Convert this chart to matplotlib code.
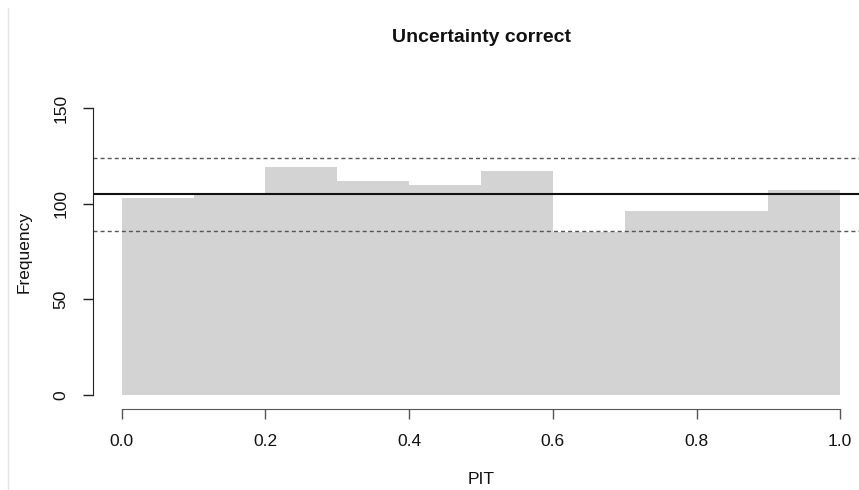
import numpy as np
import matplotlib
matplotlib.use('Agg')
from matplotlib import pyplot as plt
from matplotlib.lines import Line2D

plt.rcParams['font.family'] = ['Liberation Sans', 'DejaVu Sans']

# PIT histogram: ten equal bins on [0, 1]
bin_edges = [0.0, 0.1, 0.2, 0.3, 0.4, 0.5, 0.6, 0.7, 0.8, 0.9, 1.0]
counts = np.array([103, 105, 119, 112, 110, 117, 85, 96, 96, 107])
x_ticks = [0.0, 0.2, 0.4, 0.6, 0.8, 1.0]
y_ticks = [0, 50, 100, 150]

n_total = counts.sum()
p_bin = 1.0 / len(counts)
expected = n_total * p_bin
half_width = 1.96 * np.sqrt(n_total * p_bin * (1 - p_bin))

fig = plt.figure(figsize=(8.59, 4.90), dpi=100)
ax = fig.add_axes([0.1083, 0.1704, 0.9033, 0.6325])

ax.stairs(counts, bin_edges, fill=True, color='#d3d3d3', lw=0)
ax.axhline(expected, color='#111111', lw=1.5)
for y in (expected - half_width, expected + half_width):
    ax.axhline(y, color='#555555', lw=1.0, dashes=(2.9, 2.2))

ax.set_xlim(-0.04, 1.04)
ax.set_ylim(-6, 156)

for side in ('top', 'right'):
    ax.spines[side].set_visible(False)
ax.spines['left'].set_bounds(0, 150)
ax.spines['bottom'].set_bounds(0, 1)
ax.spines['bottom'].set_position(('outward', 2))
ax.spines['left'].set_color('#222222')
ax.spines['bottom'].set_color('#555555')

ax.set_xticks(x_ticks)
ax.set_xticklabels([f'{t:.1f}' for t in x_ticks])
ax.set_yticks(y_ticks)
ax.set_yticklabels([str(t) for t in y_ticks], rotation=90, va='center')
ax.tick_params(axis='x', length=7.5, width=1.0, color='#555555',
               labelsize=12.5, pad=10, labelcolor='#111111')
ax.tick_params(axis='y', length=7.5, width=1.0, color='#222222',
               labelsize=12.5, pad=10, labelcolor='#111111')

ax.set_xlabel('PIT', fontsize=12.5, labelpad=17, color='#111111')
ax.set_ylabel('Frequency', fontsize=12.5, labelpad=16, color='#111111')
fig.text(481 / 859, 1 - 37 / 490, 'Uncertainty correct', ha='center',
         va='center', fontsize=14, fontweight='bold', color='#111111')

# thin border on the left edge of the canvas
fig.add_artist(Line2D([8 / 859, 8 / 859], [0, 1 - 8 / 490],
                      transform=fig.transFigure, color='#e4e4e4', lw=1.0))

fig.savefig('out.png', dpi=100)
